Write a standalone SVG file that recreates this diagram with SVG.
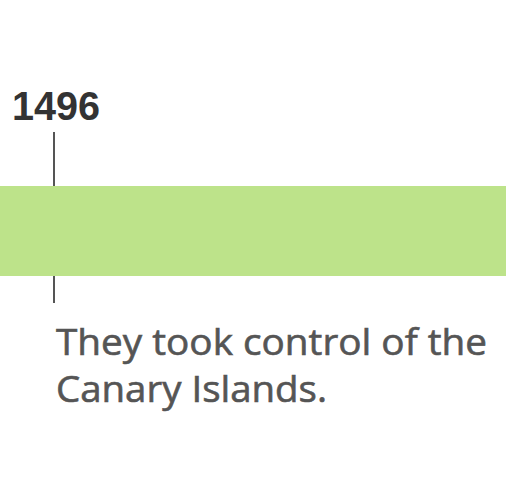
<svg xmlns="http://www.w3.org/2000/svg" width="506" height="480" viewBox="0 0 506 480">
<style>
.year{font-family:"Liberation Sans",Arial,sans-serif;font-weight:bold;font-size:40px;fill:#333}
.desc{font-family:"Open Sans","Liberation Sans",sans-serif;font-size:36px;fill:#555;stroke:#555;stroke-width:0.6}
.tick{stroke:#555;stroke-width:2}
</style>
<rect x="0" y="0" width="506" height="480" fill="#fff"/>
<g id="band"><rect x="0" y="186" width="506" height="90" fill="#bde38a"/></g>
<g id="connectors">
<line class="tick" x1="54" y1="132" x2="54" y2="186"/>
<line class="tick" x1="54" y1="276" x2="54" y2="303"/>
</g>
<g id="event-1496">
<text class="year" x="12" y="120" textLength="88" lengthAdjust="spacingAndGlyphs">1496</text>
<text class="desc" x="56" y="355" textLength="431" lengthAdjust="spacingAndGlyphs">They took control of the</text>
<text class="desc" x="56" y="402" textLength="271" lengthAdjust="spacingAndGlyphs">Canary Islands.</text>
</g>
</svg>
